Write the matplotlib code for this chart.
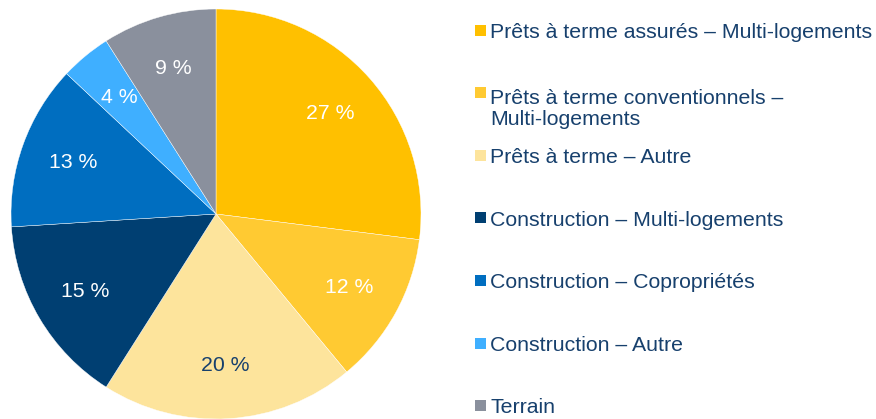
import matplotlib.pyplot as plt
from matplotlib.patches import Rectangle

plt.rcParams['font.family'] = ['Liberation Sans', 'DejaVu Sans']

# Data
labels = ['Prêts à terme assurés – Multi-logements',
          'Prêts à terme conventionnels –\nMulti-logements',
          'Prêts à terme – Autre',
          'Construction – Multi-logements',
          'Construction – Copropriétés',
          'Construction – Autre',
          'Terrain']
shares = [27, 12, 20, 15, 13, 4, 9]
colors = ['#FFC000', '#FFCA32', '#FDE49C', '#003F72', '#006EC0', '#3FAFFF', '#8A909D']
pct_colors = ['white', 'white', '#17406D', 'white', 'white', 'white', 'white']

W, H = 876, 419
fig = plt.figure(figsize=(W / 100, H / 100), dpi=100)

# Pie: center ~(216, 214) px, radius ~205 px
cx, cy, r = 216, 214, 205
ax = fig.add_axes([(cx - r) / W, (H - cy - r) / H, 2 * r / W, 2 * r / H])
wedges, texts, autotexts = ax.pie(
    shares, colors=colors, startangle=90, counterclock=False,
    autopct=lambda p: f'{p:.0f} %', pctdistance=0.74,
    wedgeprops=dict(edgecolor='white', linewidth=0.3),
    textprops=dict(fontsize=15.3))
for t, c in zip(autotexts, pct_colors):
    t.set_color(c)
ax.set_aspect('equal')
ax.set_xlim(-1, 1)
ax.set_ylim(-1, 1)
ax.axis('off')

# Legend drawn manually
text_color = '#17406D'
for i, (lab, col) in enumerate(zip(labels, colors)):
    yc = 30.5 + 62.5 * i
    n_extra = lab.count('\n')
    fig.patches.append(Rectangle((475 / W, 1 - (yc + 5.5) / H), 11 / W, 11 / H,
                                 transform=fig.transFigure, facecolor=col,
                                 edgecolor='none'))
    # baseline of a multi-line text sits on its last line
    fig.text(490 / W, 1 - (yc + 7.6 + 24 * n_extra) / H, lab, fontsize=15.3,
             color=text_color, ha='left', va='baseline', linespacing=1.13)

plt.savefig('out.png', dpi=100)
